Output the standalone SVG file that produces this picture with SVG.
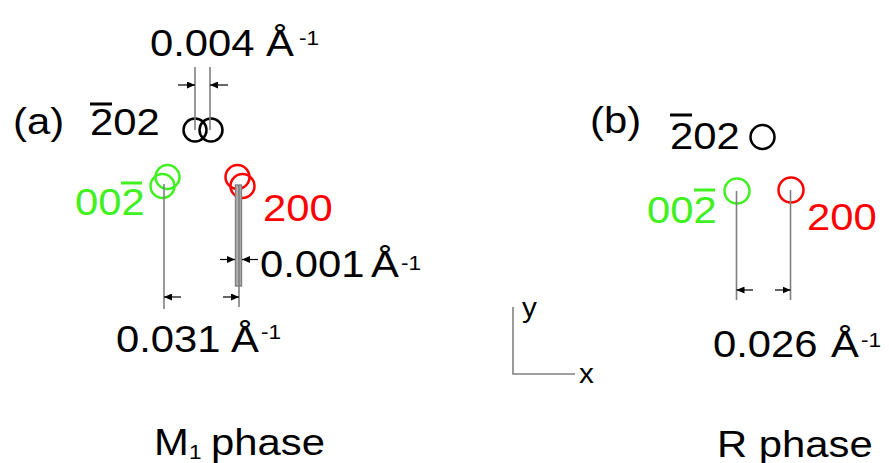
<svg xmlns="http://www.w3.org/2000/svg" width="889" height="463" viewBox="0 0 889 463">
<style>
.t{font-family:"Liberation Sans",Arial,sans-serif;font-size:37px;fill:#000}
.s{font-family:"Liberation Sans",Arial,sans-serif;font-size:20px;fill:#000}
.ax{font-family:"Liberation Sans",Arial,sans-serif;font-size:27px;fill:#000}
.g{fill:#40f020}
.r{fill:#ff0000}
.cb{fill:none;stroke:#000;stroke-width:2.5}
.cg{fill:none;stroke:#40f020;stroke-width:2.5}
.cr{fill:none;stroke:#ff0000;stroke-width:2.5}
.bar{stroke-width:3}
.gl{stroke:#808080;stroke-width:1.6;fill:none}
.ar{stroke:#000;stroke-width:1.2;fill:none;marker-end:url(#ah)}
</style>
<defs>
<marker id="ah" markerUnits="userSpaceOnUse" markerWidth="8" markerHeight="7" refX="8" refY="3.5" orient="auto">
<path d="M0,0 L8,3.5 L0,7 z" fill="#000"/>
</marker>
</defs>
<rect width="889" height="463" fill="#fff"/>

<g id="label-a"><text class="t" transform="translate(13,134) scale(1.13,1)">(a)</text></g>
<g id="label-b"><text class="t" transform="translate(590,133) scale(1.13,1)">(b)</text></g>

<g id="a-m202">
<text class="t" transform="translate(90,135) scale(1.13,1)">202</text>
<line x1="90" y1="104" x2="112" y2="104" stroke="#000" class="bar"/>
<circle class="cb" cx="195" cy="130" r="11.5"/>
<circle class="cb" cx="211" cy="130" r="11.5"/>
</g>

<g id="a-00m2">
<text class="t g" transform="translate(75,215) scale(1.13,1)">002</text>
<line x1="121" y1="183" x2="142" y2="183" stroke="#40f020" class="bar"/>
<circle class="cg" cx="167.5" cy="177" r="12"/>
<circle class="cg" cx="162.5" cy="186" r="12"/>
</g>

<g id="a-200">
<text class="t r" transform="translate(263,221) scale(1.13,1)">200</text>
<circle class="cr" cx="237.5" cy="177" r="12"/>
<circle class="cr" cx="242.5" cy="186" r="12"/>
</g>

<g id="b-m202">
<text class="t" transform="translate(670,149) scale(1.13,1)">202</text>
<line x1="670" y1="115" x2="692" y2="115" stroke="#000" class="bar"/>
<circle class="cb" cx="762.5" cy="137" r="12"/>
</g>

<g id="b-00m2">
<text class="t g" transform="translate(647,223) scale(1.13,1)">002</text>
<line x1="694" y1="190" x2="715" y2="190" stroke="#40f020" class="bar"/>
<circle class="cg" cx="737" cy="191" r="12.5"/>
</g>

<g id="b-200">
<text class="t r" transform="translate(807,230) scale(1.13,1)">200</text>
<circle class="cr" cx="791" cy="190" r="12.5"/>
</g>

<g id="dim-0004">
<text class="t" transform="translate(150,56) scale(1.13,1)">0.004</text>
<text class="t" transform="translate(266,56) scale(1.13,1)">Å</text>
<text class="s" transform="translate(299,45) scale(1.13,1)">-1</text>
</g>
<g id="dim-0001">
<text class="t" transform="translate(260,277) scale(1.13,1)">0.001</text>
<text class="t" transform="translate(371,277) scale(1.13,1)">Å</text>
<text class="s" transform="translate(401,270) scale(1.13,1)">-1</text>
</g>
<g id="dim-0031">
<text class="t" transform="translate(116,352) scale(1.13,1)">0.031</text>
<text class="t" transform="translate(231,352) scale(1.13,1)">Å</text>
<text class="s" transform="translate(261,339) scale(1.13,1)">-1</text>
</g>
<g id="dim-0026">
<text class="t" transform="translate(713,357) scale(1.13,1)">0.026</text>
<text class="t" transform="translate(831,357) scale(1.13,1)">Å</text>
<text class="s" transform="translate(861,347) scale(1.13,1)">-1</text>
</g>

<g id="axes">
<path class="gl" d="M513,307 V374 H575"/>
<text class="ax" transform="translate(522,317) scale(1.1,1)">y</text>
<text class="ax" transform="translate(579,383) scale(1.1,1)">x</text>
</g>

<g id="title-a">
<text class="t" transform="translate(154,455) scale(1.13,1)">M</text>
<text class="s" transform="translate(189,459) scale(1.13,1)">1</text>
<text class="t" transform="translate(211,455) scale(1.13,1)">phase</text>
</g>
<g id="title-b">
<text class="t" transform="translate(717,457) scale(1.13,1)">R phase</text>
</g>

<g id="connectors">
<line class="gl" x1="195" y1="67" x2="195" y2="130"/>
<line class="gl" x1="210" y1="67" x2="210" y2="130"/>
<line class="ar" x1="178" y1="85" x2="195" y2="85"/>
<line class="ar" x1="228" y1="85" x2="210" y2="85"/>

<line class="gl" x1="164" y1="184" x2="164" y2="309"/>
<rect x="235.5" y="185" width="6" height="101" fill="#b0b0b0" stroke="#808080" stroke-width="1.4"/>
<line class="gl" x1="239" y1="185" x2="239" y2="307"/>
<line class="ar" x1="220" y1="259.5" x2="235" y2="259.5"/>
<line class="ar" x1="258" y1="259.5" x2="242" y2="259.5"/>
<line class="ar" x1="181" y1="297" x2="164" y2="297"/>
<line class="ar" x1="223" y1="297" x2="239" y2="297"/>

<line class="gl" x1="736.5" y1="191" x2="736.5" y2="300"/>
<line class="gl" x1="790.5" y1="190" x2="790.5" y2="300"/>
<line class="ar" x1="753" y1="290" x2="736.5" y2="290"/>
<line class="ar" x1="775" y1="290" x2="790.5" y2="290"/>
</g>
</svg>
